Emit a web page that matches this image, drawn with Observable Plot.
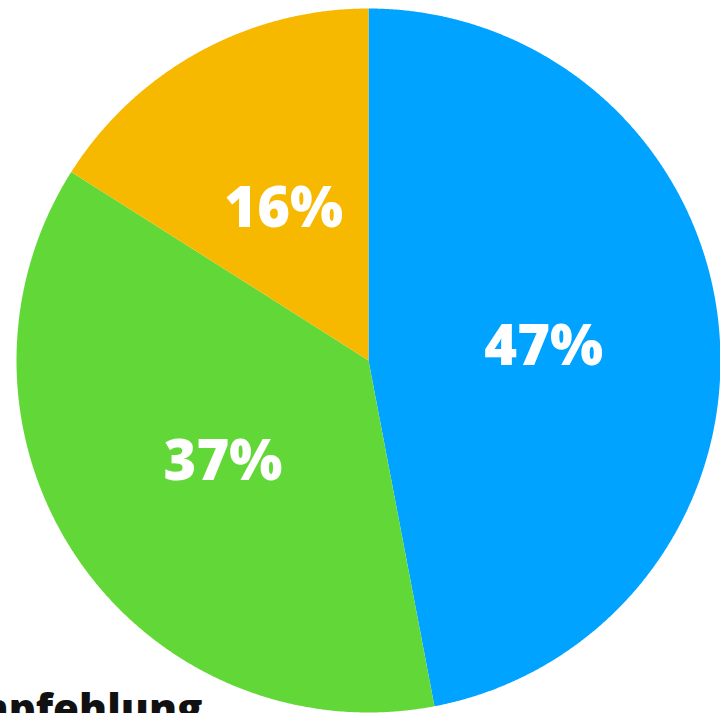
<!DOCTYPE html>
<html>
<head>
<meta charset="utf-8">
<script src="https://cdn.jsdelivr.net/npm/d3@7"></script>
<script src="https://cdn.jsdelivr.net/npm/@observablehq/plot@0.6"></script>
<style>
  html, body { margin: 0; padding: 0; background: #fff; overflow: hidden; }
  svg { overflow: visible; }
</style>
</head>
<body>
<div id="chart"></div>
<script>
const categories = ["Ja", "Nein", "Weiß nicht"];
const values = [47, 37, 16];
const labels = ["47%", "37%", "16%"];
const colors = ["#00A3FF", "#62D838", "#F7B800"];
const captionText = "Empfehlung";

const arcs = d3.pie().sort(null).value(d => d)(values);
const pts = arcs.flatMap((a, i) => {
  const k = categories[i];
  const n = Math.ceil((a.endAngle - a.startAngle) / 0.004);
  const p = [{x: 0, y: 0, k}];
  for (let j = 0; j <= n; j++) {
    const t = a.startAngle + (a.endAngle - a.startAngle) * j / n;
    p.push({x: Math.sin(t), y: Math.cos(t), k});
  }
  return p;
});
const labelData = arcs.map((a, i) => {
  const m = (a.startAngle + a.endAngle) / 2;
  return {x: 0.5 * Math.sin(m), y: 0.5 * Math.cos(m), label: labels[i]};
});

const chart = Plot.plot({
  width: 720,
  height: 713,
  marginLeft: 16,
  marginRight: 0,
  marginTop: 8,
  marginBottom: 1,
  x: {domain: [-1, 1], axis: null},
  y: {domain: [-1, 1], axis: null},
  color: {domain: categories, range: colors},
  marks: [
    Plot.line(pts, {x: "x", y: "y", z: "k", fill: "k", stroke: "none", curve: "linear-closed"}),
    Plot.text(labelData, {x: "x", y: "y", text: "label", fill: "white",
      fontSize: 56, fontWeight: 800, fontFamily: "Open Sans", dy: 3}),
    Plot.text([captionText], {frameAnchor: "bottom-left", text: d => d, textAnchor: "end",
      lineAnchor: "bottom", dx: 186, dy: 11, fill: "#111", fontSize: 42, fontWeight: 800,
      fontFamily: "Open Sans"})
  ]
});
document.getElementById("chart").appendChild(chart);
</script>
</body>
</html>
